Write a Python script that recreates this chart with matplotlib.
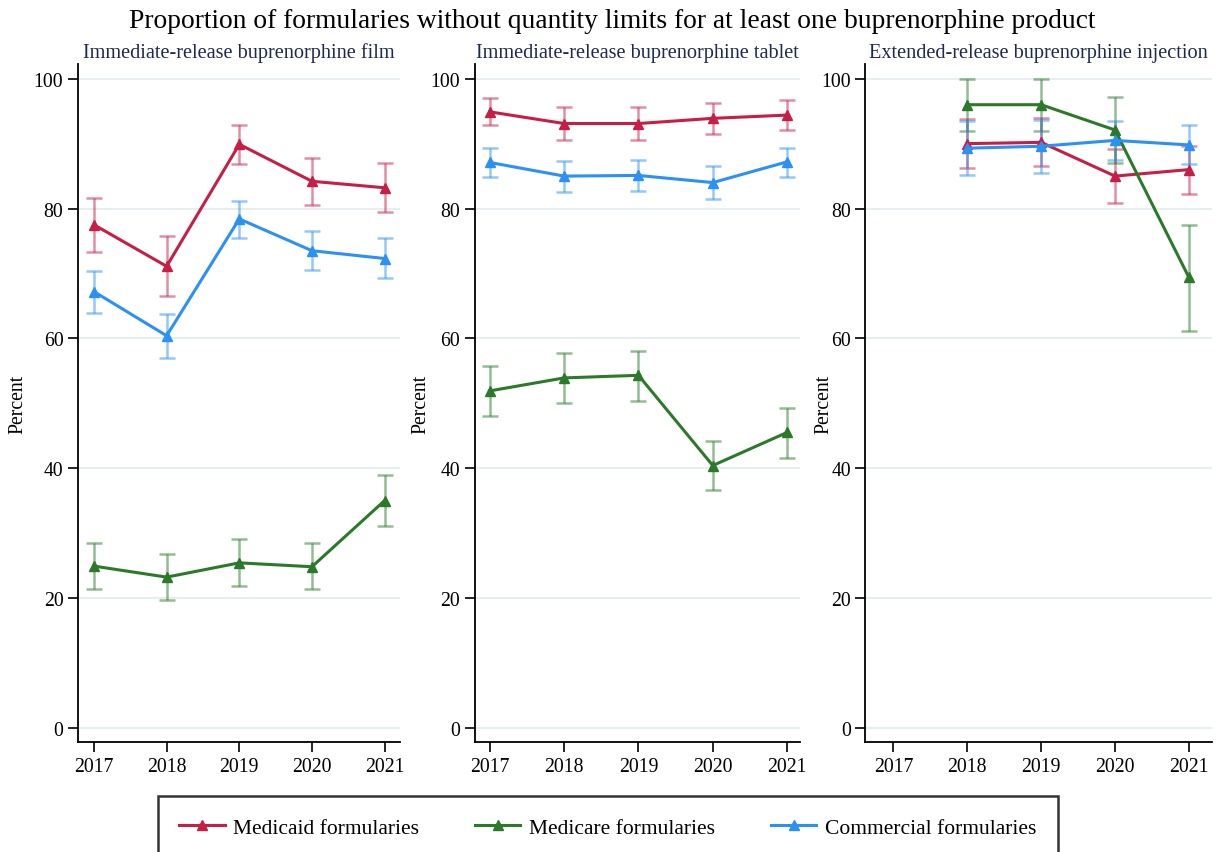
import matplotlib.pyplot as plt
import numpy as np

plt.rcParams["font.family"] = ["Liberation Serif", "DejaVu Serif"]

years = [2017, 2018, 2019, 2020, 2021]
panel_titles = [
    "Immediate-release buprenorphine film",
    "Immediate-release buprenorphine tablet",
    "Extended-release buprenorphine injection",
]
series_names = ["Medicaid formularies", "Medicare formularies", "Commercial formularies"]
colors = ["#c81d45", "#2a7a2a", "#2b91f5"]

# film
film_medicaid = [77.5, 71.1, 89.9, 84.2, 83.2]
film_medicaid_lo = [73.3, 66.5, 86.8, 80.6, 79.5]
film_medicaid_hi = [81.7, 75.8, 92.9, 87.8, 87.0]
film_medicare = [24.9, 23.2, 25.4, 24.8, 35.0]
film_medicare_lo = [21.4, 19.7, 21.8, 21.3, 31.1]
film_medicare_hi = [28.4, 26.8, 29.1, 28.4, 38.9]
film_commercial = [67.2, 60.4, 78.4, 73.5, 72.3]
film_commercial_lo = [63.9, 57.0, 75.5, 70.5, 69.3]
film_commercial_hi = [70.4, 63.7, 81.1, 76.5, 75.4]

# tablet
tab_medicaid = [94.9, 93.1, 93.1, 93.9, 94.4]
tab_medicaid_lo = [92.8, 90.6, 90.6, 91.5, 92.1]
tab_medicaid_hi = [97.0, 95.6, 95.6, 96.2, 96.7]
tab_medicare = [51.9, 53.9, 54.3, 40.4, 45.5]
tab_medicare_lo = [48.1, 50.1, 50.4, 36.6, 41.6]
tab_medicare_hi = [55.7, 57.7, 58.0, 44.2, 49.3]
tab_commercial = [87.1, 85.0, 85.1, 84.0, 87.2]
tab_commercial_lo = [84.8, 82.6, 82.7, 81.5, 84.9]
tab_commercial_hi = [89.4, 87.4, 87.5, 86.5, 89.4]

# injection (no 2017 data)
inj_years = [2018, 2019, 2020, 2021]
inj_medicaid = [90.0, 90.2, 85.0, 86.0]
inj_medicaid_lo = [86.3, 86.5, 80.9, 82.2]
inj_medicaid_hi = [93.8, 93.9, 89.1, 89.7]
inj_medicare = [96.0, 96.0, 92.1, 69.4]
inj_medicare_lo = [91.9, 91.9, 87.0, 61.1]
inj_medicare_hi = [100.0, 100.0, 97.2, 77.5]
inj_commercial = [89.3, 89.6, 90.5, 89.8]
inj_commercial_lo = [85.2, 85.5, 87.5, 86.9]
inj_commercial_hi = [93.5, 93.6, 93.5, 92.8]

panels = [
    (years, [(film_medicaid, film_medicaid_lo, film_medicaid_hi),
             (film_medicare, film_medicare_lo, film_medicare_hi),
             (film_commercial, film_commercial_lo, film_commercial_hi)]),
    (years, [(tab_medicaid, tab_medicaid_lo, tab_medicaid_hi),
             (tab_medicare, tab_medicare_lo, tab_medicare_hi),
             (tab_commercial, tab_commercial_lo, tab_commercial_hi)]),
    (inj_years, [(inj_medicaid, inj_medicaid_lo, inj_medicaid_hi),
                 (inj_medicare, inj_medicare_lo, inj_medicare_hi),
                 (inj_commercial, inj_commercial_lo, inj_commercial_hi)]),
]

fig = plt.figure(figsize=(12.24, 8.53), dpi=100)
boxes = [(0.0637, 0.263), (0.388, 0.266), (0.707, 0.283)]
xlims = [(2016.78, 2021.21), (2016.80, 2021.18), (2016.62, 2021.31)]
ylabel_x = [18 / 1224, 421 / 1224, 824 / 1224]
bottom, top = 0.129, 0.924

handles = []
for i, ((xs, series), (left, width), xl) in enumerate(zip(panels, boxes, xlims)):
    ax = fig.add_axes([left, bottom, width, top - bottom])
    for j, ((vals, lo, hi), col) in enumerate(zip(series, colors)):
        vals = np.array(vals)
        err = [vals - np.array(lo), np.array(hi) - vals]
        ax.errorbar(xs, vals, yerr=err, fmt="none", ecolor=col, alpha=0.5,
                    elinewidth=1.8, capsize=6, capthick=1.8, zorder=2)
        (ln,) = ax.plot(xs, vals, color=col, lw=2.2, marker="^", ms=6.5,
                        label=series_names[j], zorder=3)
        if i == 0:
            handles.append(ln)
    ax.set_xlim(*xl)
    ax.set_ylim(-2.2, 102.3)
    ax.set_xticks(years)
    ax.set_yticks([0, 20, 40, 60, 80, 100])
    ax.grid(axis="y", color="#e6eef0", lw=1.5, zorder=0)
    ax.set_axisbelow(True)
    for s in ["top", "right"]:
        ax.spines[s].set_visible(False)
    for s in ["left", "bottom"]:
        ax.spines[s].set_linewidth(1.3)
    ax.tick_params(labelsize=14.2, length=7, width=1.2, direction="out")
    ax.set_title(panel_titles[i], fontsize=14.6, color="#1b2a4e", pad=5)
    fig.text(ylabel_x[i], (bottom + top) / 2, "Percent", rotation=90,
             ha="center", va="center", fontsize=14.2)

fig.suptitle("Proportion of formularies without quantity limits for at least one buprenorphine product",
             fontsize=19.8, y=0.99)

leg = fig.legend(handles=handles, loc="upper center", bbox_to_anchor=(0.4965, 0.0657),
                 ncol=3, fontsize=15.5, frameon=True, fancybox=False, edgecolor="black",
                 handlelength=2.1, columnspacing=2.6, borderpad=1.0, handletextpad=0.4,
                 borderaxespad=0.0)
leg.get_frame().set_linewidth(1.8)

fig.savefig("out.png", dpi=100)
